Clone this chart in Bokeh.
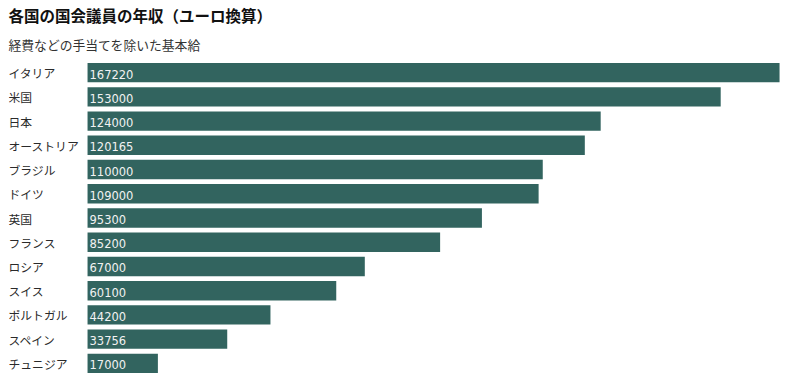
from bokeh.plotting import figure
from bokeh.models import ColumnDataSource, FactorRange, Range1d, Title
from bokeh.core.properties import value
from bokeh.embed import file_html
from bokeh.resources import INLINE

countries = ["イタリア", "米国", "日本", "オーストリア", "ブラジル", "ドイツ", "英国",
             "フランス", "ロシア", "スイス", "ポルトガル", "スペイン", "チュニジア"]
salaries = [167220, 153000, 124000, 120165, 110000, 109000, 95300,
            85200, 67000, 60100, 44200, 33756, 17000]
value_labels = [str(v) for v in salaries]

title_text = "各国の国会議員の年収（ユーロ換算）"
subtitle_text = "経費などの手当てを除いた基本給"

JP = "Noto Sans CJK JP"
x_start = -19100
x_end = 168900
n = len(countries)

src = ColumnDataSource(dict(country=countries, salary=salaries, label=value_labels,
                            left=[x_start] * n, zero=[0] * n))

p = figure(width=786, height=377, output_backend="svg", toolbar_location=None,
           y_range=FactorRange(factors=countries[::-1], range_padding=0),
           x_range=Range1d(x_start, x_end),
           min_border_left=8, min_border_right=0, min_border_bottom=2, min_border_top=0)

p.title.visible = False
sub = Title(text=subtitle_text, text_font=JP, text_font_size="12.8px", text_font_style="normal",
            text_color="#333333", align="left", offset=0, standoff=13)
main = Title(text=title_text, text_font=JP, text_font_size="15.5px", text_font_style="bold",
             text_color="#111111", align="left", offset=0, standoff=2)
p.add_layout(sub, "above")
p.add_layout(main, "above")

p.hbar(y="country", left="zero", right="salary", height=0.8, source=src,
       fill_color="#32645f", line_color=None)
p.text(x="left", y="country", text="country", source=src, text_align="left",
       text_baseline="middle", text_font=value(JP), text_font_size="11.8px", text_color="#2a2a2a")
p.text(x="zero", y="country", text="label", source=src, x_offset=2, y_offset=1.5,
       text_align="left", text_baseline="middle", text_font=value("DejaVu Sans"),
       text_font_size="11.5px", text_color="#f2f2f2")

p.xaxis.visible = False
p.yaxis.visible = False
p.xgrid.visible = False
p.ygrid.visible = False
p.outline_line_color = None

open("out.html", "w").write(file_html(p, INLINE))
